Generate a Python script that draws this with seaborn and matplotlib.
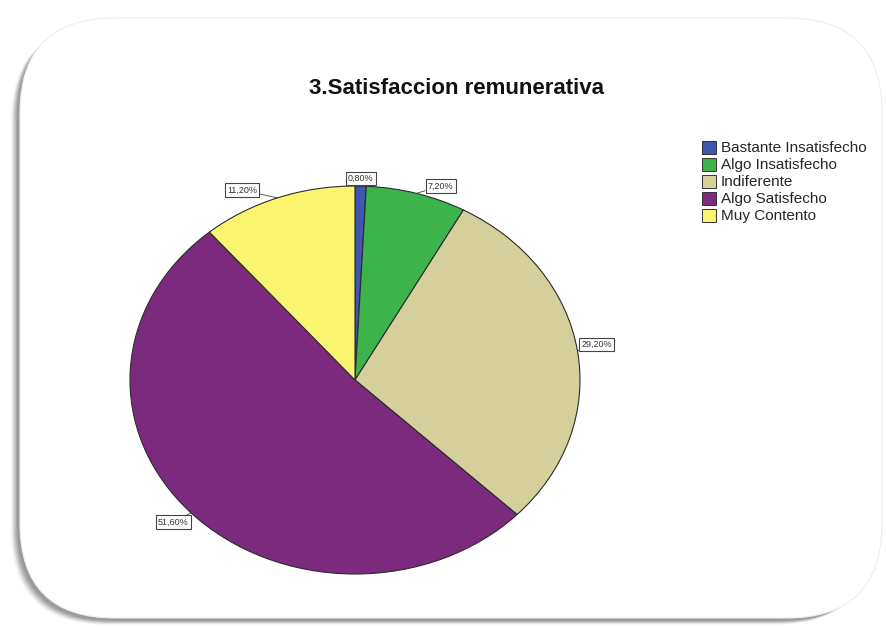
import numpy as np
import matplotlib
matplotlib.use("Agg")
import matplotlib.pyplot as plt
from matplotlib.patches import FancyBboxPatch, Patch
import seaborn as sns

categories = ["Bastante Insatisfecho", "Algo Insatisfecho", "Indiferente",
              "Algo Satisfecho", "Muy Contento"]
percentages = [0.8, 7.2, 29.2, 51.6, 11.2]
labels = ["0,80%", "7,20%", "29,20%", "51,60%", "11,20%"]
colors = ["#3F57AE", "#3CB44B", "#D5CF9B", "#7B2A7D", "#F9F56E"]
title = "3.Satisfaccion remunerativa"

# label placement: angular nudge (degrees) and radial distance from the centre
label_nudge = [0, -5, 1, -1, 7]
label_radius = [1.04, 1.07, 1.09, 1.09, 1.10]

sns.set_theme(style="white")
plt.rcParams["font.family"] = ["Liberation Sans", "DejaVu Sans"]

W, H = 887, 628
fig = plt.figure(figsize=(W / 100, H / 100), dpi=100)
fig.patch.set_facecolor("white")

# rounded card with a soft shadow on the left and bottom
bg = fig.add_axes([0, 0, 1, 1])
bg.set_xlim(0, W)
bg.set_ylim(H, 0)
bg.axis("off")
for i, a in enumerate(np.linspace(0.05, 0.25, 8)):
    off = 8 - i
    bg.add_patch(FancyBboxPatch((18 - off * 0.9, 22 + off * 0.6), 860, 598,
                                boxstyle="round,pad=0,rounding_size=95",
                                fc="#7a7a7a", ec="none", alpha=a))
bg.add_patch(FancyBboxPatch((20, 18), 862, 600,
                            boxstyle="round,pad=0,rounding_size=95",
                            fc="white", ec="#eeeeee", lw=0.8))

bg.text(457, 88, title, ha="center", va="center", fontsize=16,
        fontweight="bold", color="#111111")

# elliptical pie
ax = fig.add_axes([130 / W, 1 - 574 / H, 450 / W, 388 / H])
wedges, _ = ax.pie(percentages, colors=colors, startangle=90, counterclock=False,
                   radius=1.0,
                   wedgeprops=dict(edgecolor="#2b2b2b", linewidth=0.8))
ax.set_aspect("auto")
ax.set_xlim(-1, 1)
ax.set_ylim(-1, 1)
ax.axis("off")

cum = np.cumsum([0] + percentages)
for k, lab in enumerate(labels):
    mid = 90 - 360 * (cum[k] + percentages[k] / 2) / 100
    th = np.deg2rad(mid)
    ex, ey = np.cos(th), np.sin(th)
    tl = np.deg2rad(mid + label_nudge[k])
    tx, ty = label_radius[k] * np.cos(tl), label_radius[k] * np.sin(tl)
    ax.annotate(lab, xy=(ex, ey), xytext=(tx, ty), ha="center", va="center",
                fontsize=6.5, color="#333333",
                bbox=dict(boxstyle="square,pad=0.25", fc="white", ec="#444444", lw=0.8),
                arrowprops=dict(arrowstyle="-", color="#444444", lw=0.6,
                                shrinkA=0, shrinkB=0))

handles = [Patch(facecolor=c, edgecolor="#333333", linewidth=0.7) for c in colors]
fig.legend(handles, categories, loc="upper left",
           bbox_to_anchor=(694 / W, 1 - 133 / H), frameon=False,
           fontsize=11, handlelength=0.95, handleheight=0.95,
           handletextpad=0.3, labelspacing=0.14, borderpad=0)

fig.savefig("out.png", dpi=100, facecolor="white")
